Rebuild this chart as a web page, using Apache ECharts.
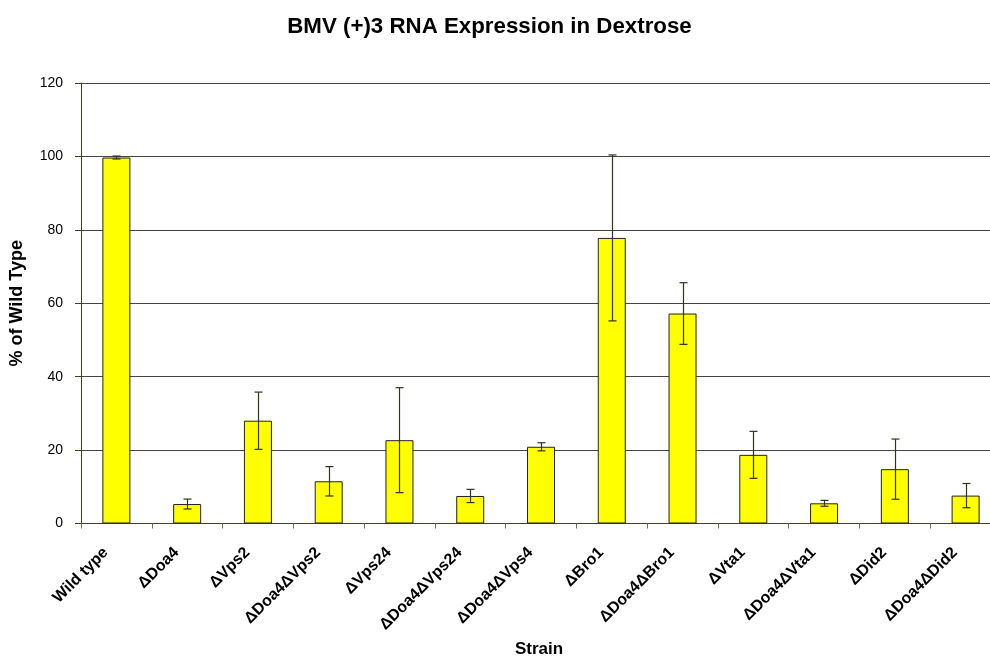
<!DOCTYPE html>
<html>
<head>
<meta charset="utf-8">
<script src="https://cdn.jsdelivr.net/npm/echarts@6/dist/echarts.min.js"></script>
<style>html,body{margin:0;padding:0;background:#fff;overflow:hidden;width:990px;height:662px;}#c{width:1001px;height:662px;}</style>
</head>
<body>
<div id="c"></div>
<script>
const categories = ['Wild type','ΔDoa4','ΔVps2','ΔDoa4ΔVps2','ΔVps24','ΔDoa4ΔVps24','ΔDoa4ΔVps4','ΔBro1','ΔDoa4ΔBro1','ΔVta1','ΔDoa4ΔVta1','ΔDid2','ΔDoa4ΔDid2'];
const values = [99.7, 5.3, 28.0, 11.5, 22.7, 7.5, 20.9, 77.8, 57.2, 18.7, 5.5, 14.8, 7.6];
const errors = [0.4, 1.35, 7.8, 4.0, 14.3, 1.8, 1.1, 22.6, 8.4, 6.4, 0.8, 8.2, 3.3];
const yTicks = [0, 20, 40, 60, 80, 100, 120];

const errData = values.map((v, i) => [i, v - errors[i], v + errors[i]]);
const FONT = '"Liberation Sans", Arial, sans-serif';

const chart = echarts.init(document.getElementById('c'), null, {renderer: 'canvas', width: 1001, height: 662});
chart.setOption({
  animation: false,
  backgroundColor: '#fff',
  title: {
    text: 'BMV (+)3 RNA Expression in Dextrose',
    left: 484.5, top: 11, textAlign: 'center',
    textStyle: {fontFamily: FONT, fontSize: 22.3, fontWeight: 'bold', color: '#000'}
  },
  grid: {left: 81, top: 83, right: 0, height: 440.5, containLabel: false, outerBoundsMode: 'none'},
  graphic: [{
    type: 'text', left: 515, top: 641,
    style: {text: 'Strain', fill: '#000', font: 'bold 17px "Liberation Sans", Arial, sans-serif'}
  }],
  xAxis: {
    type: 'category',
    data: categories,
    axisLine: {lineStyle: {color: '#404030', width: 1}},
    axisTick: {show: true, alignWithLabel: false, length: 5, lineStyle: {color: '#707050'}},
    axisLabel: {rotate: 45, interval: 0, margin: 16, padding: [0, 15, 0, 0], fontFamily: FONT, fontSize: 16, fontWeight: 'bold', color: '#000'}
  },
  yAxis: {
    type: 'value',
    min: yTicks[0], max: yTicks[yTicks.length - 1], interval: 20,
    name: '% of Wild Type',
    nameLocation: 'middle',
    nameGap: 55,
    nameRotate: 90,
    nameTextStyle: {fontFamily: FONT, fontSize: 18, fontWeight: 'bold', color: '#000'},
    axisLine: {show: true, lineStyle: {color: '#404018', width: 1}},
    axisTick: {show: true, length: 6, lineStyle: {color: '#404018'}},
    axisLabel: {margin: 18, fontFamily: FONT, fontSize: 14, color: '#000'},
    splitLine: {show: true, lineStyle: {color: '#444', width: 1}}
  },
  series: [
    {
      type: 'bar',
      data: values,
      barWidth: 28,
      itemStyle: {color: '#FFFF00', borderColor: '#222', borderWidth: 1},
      z: 2
    },
    {
      type: 'custom',
      data: errData,
      z: 3,
      renderItem: function (params, api) {
        const x = api.value(0);
        const lo = api.coord([x, api.value(1)]);
        const hi = api.coord([x, api.value(2)]);
        const cx = Math.round(lo[0]) + 0.5;
        const w = 4;
        const st = {stroke: '#333318', lineWidth: 1.2};
        return {
          type: 'group',
          children: [
            {type: 'line', shape: {x1: cx, y1: lo[1], x2: cx, y2: hi[1]}, style: st},
            {type: 'line', shape: {x1: cx - w, y1: lo[1], x2: cx + w, y2: lo[1]}, style: st},
            {type: 'line', shape: {x1: cx - w, y1: hi[1], x2: cx + w, y2: hi[1]}, style: st}
          ]
        };
      }
    }
  ]
});
</script>
</body>
</html>
